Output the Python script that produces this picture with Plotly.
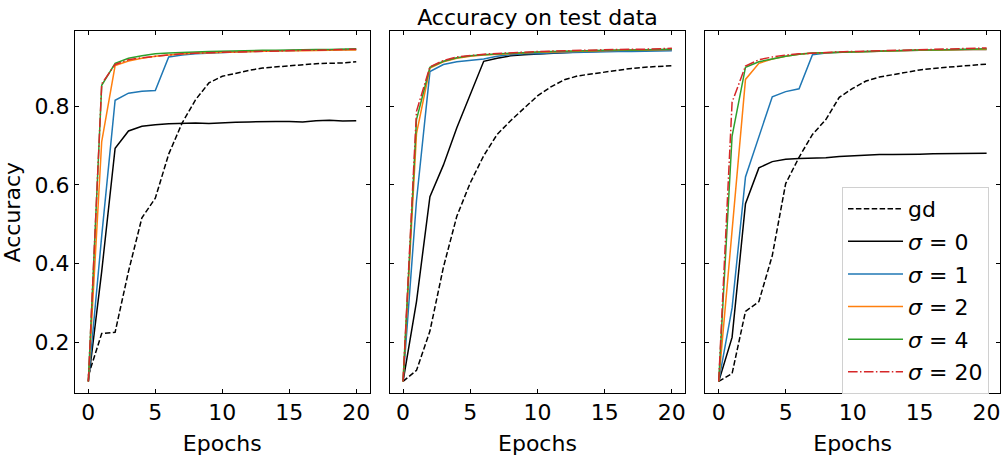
import plotly.graph_objects as go

epochs = list(range(21))

# Panel 1
gd_1 = [0.115, 0.222, 0.225, 0.38, 0.516, 0.566, 0.678, 0.757, 0.816, 0.859, 0.876, 0.884, 0.891, 0.897, 0.900, 0.902, 0.905, 0.908, 0.909, 0.910, 0.913]
s0_1 = [0.10, 0.38, 0.693, 0.737, 0.749, 0.753, 0.755, 0.756, 0.757, 0.756, 0.758, 0.759, 0.760, 0.761, 0.761, 0.761, 0.760, 0.763, 0.764, 0.762, 0.763]
s1_1 = [0.10, 0.47, 0.815, 0.833, 0.838, 0.840, 0.925, 0.930, 0.933, 0.935, 0.937, 0.938, 0.939, 0.940, 0.940, 0.941, 0.942, 0.942, 0.943, 0.943, 0.944]
s2_1 = [0.10, 0.71, 0.903, 0.915, 0.922, 0.927, 0.930, 0.933, 0.935, 0.936, 0.937, 0.938, 0.939, 0.940, 0.940, 0.941, 0.941, 0.942, 0.942, 0.943, 0.943]
s4_1 = [0.10, 0.853, 0.909, 0.922, 0.928, 0.933, 0.935, 0.937, 0.938, 0.939, 0.940, 0.941, 0.941, 0.942, 0.942, 0.943, 0.943, 0.944, 0.944, 0.945, 0.946]
s20_1 = [0.10, 0.857, 0.906, 0.918, 0.923, 0.927, 0.930, 0.933, 0.935, 0.936, 0.937, 0.938, 0.939, 0.940, 0.941, 0.941, 0.942, 0.942, 0.943, 0.944, 0.945]

# Panel 2
gd_2 = [0.10, 0.128, 0.228, 0.39, 0.52, 0.605, 0.674, 0.728, 0.763, 0.795, 0.826, 0.849, 0.867, 0.877, 0.882, 0.887, 0.892, 0.896, 0.899, 0.901, 0.903]
s0_2 = [0.10, 0.303, 0.57, 0.65, 0.745, 0.83, 0.914, 0.922, 0.928, 0.931, 0.933, 0.935, 0.937, 0.938, 0.939, 0.940, 0.941, 0.942, 0.943, 0.943, 0.944]
s1_2 = [0.10, 0.56, 0.888, 0.906, 0.913, 0.917, 0.920, 0.927, 0.931, 0.933, 0.933, 0.935, 0.936, 0.937, 0.938, 0.938, 0.939, 0.939, 0.940, 0.940, 0.941]
s2_2 = [0.10, 0.73, 0.897, 0.913, 0.922, 0.927, 0.930, 0.932, 0.934, 0.936, 0.937, 0.938, 0.939, 0.940, 0.941, 0.941, 0.942, 0.943, 0.943, 0.944, 0.944]
s4_2 = [0.10, 0.766, 0.899, 0.914, 0.923, 0.928, 0.931, 0.933, 0.935, 0.936, 0.938, 0.939, 0.940, 0.941, 0.941, 0.942, 0.943, 0.943, 0.944, 0.944, 0.945]
s20_2 = [0.10, 0.787, 0.900, 0.916, 0.925, 0.929, 0.932, 0.934, 0.936, 0.937, 0.939, 0.940, 0.941, 0.942, 0.942, 0.943, 0.944, 0.945, 0.945, 0.946, 0.947]

# Panel 3
gd_3 = [0.10, 0.12, 0.278, 0.303, 0.42, 0.603, 0.67, 0.728, 0.766, 0.8225, 0.845, 0.864, 0.874, 0.880, 0.887, 0.892, 0.896, 0.899, 0.902, 0.905, 0.907]
s0_3 = [0.10, 0.212, 0.552, 0.643, 0.659, 0.665, 0.667, 0.668, 0.669, 0.672, 0.674, 0.675, 0.677, 0.677, 0.677, 0.678, 0.679, 0.679, 0.679, 0.680, 0.680]
s1_3 = [0.10, 0.287, 0.62, 0.724, 0.824, 0.837, 0.844, 0.931, 0.935, 0.937, 0.938, 0.939, 0.940, 0.941, 0.941, 0.942, 0.942, 0.943, 0.943, 0.944, 0.944]
s2_3 = [0.10, 0.478, 0.868, 0.909, 0.920, 0.927, 0.932, 0.935, 0.936, 0.937, 0.938, 0.939, 0.940, 0.941, 0.941, 0.942, 0.942, 0.943, 0.943, 0.944, 0.944]
s4_3 = [0.10, 0.724, 0.899, 0.913, 0.920, 0.927, 0.932, 0.935, 0.936, 0.937, 0.939, 0.940, 0.941, 0.941, 0.942, 0.943, 0.943, 0.944, 0.944, 0.945, 0.946]
s20_3 = [0.10, 0.81, 0.902, 0.918, 0.925, 0.930, 0.933, 0.935, 0.937, 0.938, 0.939, 0.940, 0.941, 0.942, 0.943, 0.943, 0.944, 0.945, 0.946, 0.947, 0.948]

series_names = ["gd", "<i>σ</i> = 0", "<i>σ</i> = 1", "<i>σ</i> = 2", "<i>σ</i> = 4", "<i>σ</i> = 20"]
colors = ["black", "black", "#1f77b4", "#ff7f0e", "#2ca02c", "#d62728"]
dashes = ["5.5px,2.4px", "solid", "solid", "solid", "solid", "9.6px,2.4px,1.5px,2.4px"]

panels = [
    [gd_1, s0_1, s1_1, s2_1, s4_1, s20_1],
    [gd_2, s0_2, s1_2, s2_2, s4_2, s20_2],
    [gd_3, s0_3, s1_3, s2_3, s4_3, s20_3],
]

FONT = "DejaVu Sans"
FS = 22
fig = go.Figure()
for p, data in enumerate(panels):
    xa = "x" if p == 0 else f"x{p+1}"
    ya = "y" if p == 0 else f"y{p+1}"
    for i, ys in enumerate(data):
        fig.add_trace(go.Scatter(
            x=epochs, y=ys, mode="lines", name=series_names[i],
            line=dict(color=colors[i], width=1.5, dash=dashes[i]),
            xaxis=xa, yaxis=ya, showlegend=(p == 2),
            legendgroup=f"g{i}",
        ))

W, H = 1003, 456
x_domains = [(75 / W, 370 / W), (390 / W, 686 / W), (706 / W, 1001 / W)]
y_domain = ((H - 400) / H, (H - 32) / H)

axis_common = dict(
    showline=True, linecolor="black", linewidth=1, mirror="ticks",
    ticks="inside", ticklen=4, tickwidth=1, tickcolor="black",
    showgrid=False, zeroline=False,
    tickfont=dict(family=FONT, size=FS, color="black"),
)

layout = dict(
    width=W, height=H,
    margin=dict(l=0, r=0, t=0, b=0),
    plot_bgcolor="white", paper_bgcolor="white",
    font=dict(family=FONT, size=FS, color="black"),
    title=dict(text="Accuracy on test data", x=538 / W, xanchor="center",
               xref="paper", yref="container", y=1 - 17 / H, yanchor="middle",
               font=dict(family=FONT, size=FS, color="black")),
    legend=dict(x=990 / W, xanchor="right", y=(H - 401) / H, yanchor="bottom",
                bgcolor="white", bordercolor="#d0d0d0", borderwidth=1,
                font=dict(family=FONT, size=FS, color="black"),
                tracegroupgap=1, itemwidth=55),
)

for p in range(3):
    xk = "xaxis" if p == 0 else f"xaxis{p+1}"
    yk = "yaxis" if p == 0 else f"yaxis{p+1}"
    ya = "y" if p == 0 else f"y{p+1}"
    xa = "x" if p == 0 else f"x{p+1}"
    layout[xk] = dict(axis_common, domain=x_domains[p], range=[-1, 21],
                      tickvals=[0, 5, 10, 15, 20], anchor=ya,
                      title=dict(text="Epochs", font=dict(family=FONT, size=FS)))
    layout[yk] = dict(axis_common, domain=y_domain, range=[0.0706, 0.99],
                      tickvals=[0.2, 0.4, 0.6, 0.8], anchor=xa,
                      showticklabels=(p == 0))
layout["yaxis"]["title"] = dict(text="Accuracy", font=dict(family=FONT, size=FS))

fig.update_layout(**layout)
fig.write_html("out.html")
